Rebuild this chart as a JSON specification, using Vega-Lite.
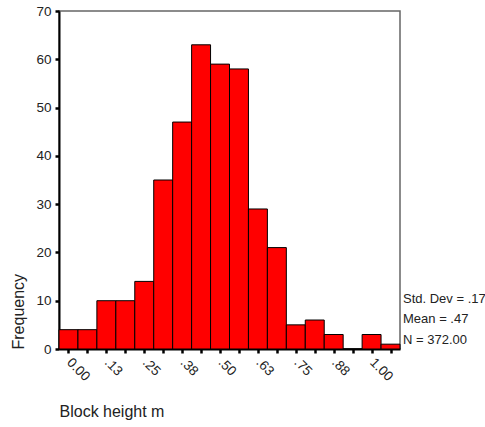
{
  "$schema": "https://vega.github.io/schema/vega-lite/v6.json",
  "width": 341,
  "height": 338,
  "autosize": {"type": "none"},
  "padding": {"left": 59, "top": 11, "right": 85, "bottom": 78},
  "background": "white",
  "config": {
    "font": "Liberation Sans",
    "view": {"stroke": "#666666", "strokeWidth": 1.5}
  },
  "data": {
    "values": [
      {"lo": -0.03125, "hi": 0.03125, "count": 4},
      {"lo": 0.03125, "hi": 0.09375, "count": 4},
      {"lo": 0.09375, "hi": 0.15625, "count": 10},
      {"lo": 0.15625, "hi": 0.21875, "count": 10},
      {"lo": 0.21875, "hi": 0.28125, "count": 14},
      {"lo": 0.28125, "hi": 0.34375, "count": 35},
      {"lo": 0.34375, "hi": 0.40625, "count": 47},
      {"lo": 0.40625, "hi": 0.46875, "count": 63},
      {"lo": 0.46875, "hi": 0.53125, "count": 59},
      {"lo": 0.53125, "hi": 0.59375, "count": 58},
      {"lo": 0.59375, "hi": 0.65625, "count": 29},
      {"lo": 0.65625, "hi": 0.71875, "count": 21},
      {"lo": 0.71875, "hi": 0.78125, "count": 5},
      {"lo": 0.78125, "hi": 0.84375, "count": 6},
      {"lo": 0.84375, "hi": 0.90625, "count": 3},
      {"lo": 0.90625, "hi": 0.96875, "count": 0},
      {"lo": 0.96875, "hi": 1.03125, "count": 3},
      {"lo": 1.03125, "hi": 1.09375, "count": 1}
    ]
  },
  "layer": [
    {
      "mark": {"type": "bar", "fill": "#FF0000", "stroke": "#000000", "strokeWidth": 1},
      "encoding": {
        "x": {
          "field": "lo",
          "type": "quantitative",
          "scale": {"domain": [-0.03125, 1.09375], "nice": false, "zero": false},
          "axis": {
            "values": [0, 0.0625, 0.125, 0.1875, 0.25, 0.3125, 0.375, 0.4375, 0.5, 0.5625, 0.625, 0.6875, 0.75, 0.8125, 0.875, 0.9375, 1, 1.0625],
            "labelExpr": "round(datum.value*16) % 2 == 0 ? (datum.value == 0 ? '0.00' : (datum.value >= 1 ? format(datum.value, '.2f') : replace(format(datum.value, '.2f'), '0.', '.'))) : ''",
            "labelAngle": 45,
            "labelAlign": "left",
            "labelBaseline": "middle",
            "labelFontSize": 13.5,
            "labelColor": "#222222",
            "labelPadding": 7,
            "labelFlush": false,
            "labelOverlap": false,
            "domainColor": "#000000",
            "domainWidth": 2,
            "tickColor": "#000000",
            "tickSize": 4,
            "tickWidth": 2.5,
            "grid": false,
            "title": "Block height m",
            "titleFontSize": 16,
            "titleFontWeight": "normal",
            "titleColor": "#222222",
            "titleAnchor": "start",
            "titleAlign": "left",
            "titlePadding": 20
          }
        },
        "x2": {"field": "hi"},
        "y": {
          "field": "count",
          "type": "quantitative",
          "scale": {"domain": [0, 70], "nice": false},
          "axis": {
            "values": [0, 10, 20, 30, 40, 50, 60, 70],
            "labelFontSize": 13.5,
            "labelColor": "#222222",
            "labelPadding": 4,
            "labelFlush": false,
            "domainColor": "#000000",
            "domainWidth": 2,
            "tickColor": "#000000",
            "tickSize": 4,
            "tickWidth": 2.5,
            "grid": false,
            "title": "Frequency",
            "titleFontSize": 16,
            "titleFontWeight": "normal",
            "titleColor": "#222222",
            "titleAnchor": "start",
            "titlePadding": 9
          }
        },
        "y2": {"datum": 0}
      }
    },
    {
      "data": {"values": [{"stat": "summary"}]},
      "mark": {
        "type": "text",
        "text": ["Std. Dev = .17", "Mean = .47", "N = 372.00"],
        "align": "left",
        "baseline": "alphabetic",
        "fontSize": 13,
        "lineHeight": 20.7,
        "color": "#222222",
        "dx": 3
      },
      "encoding": {
        "x": {"value": "width"},
        "y": {"datum": 9.6}
      }
    }
  ]
}
